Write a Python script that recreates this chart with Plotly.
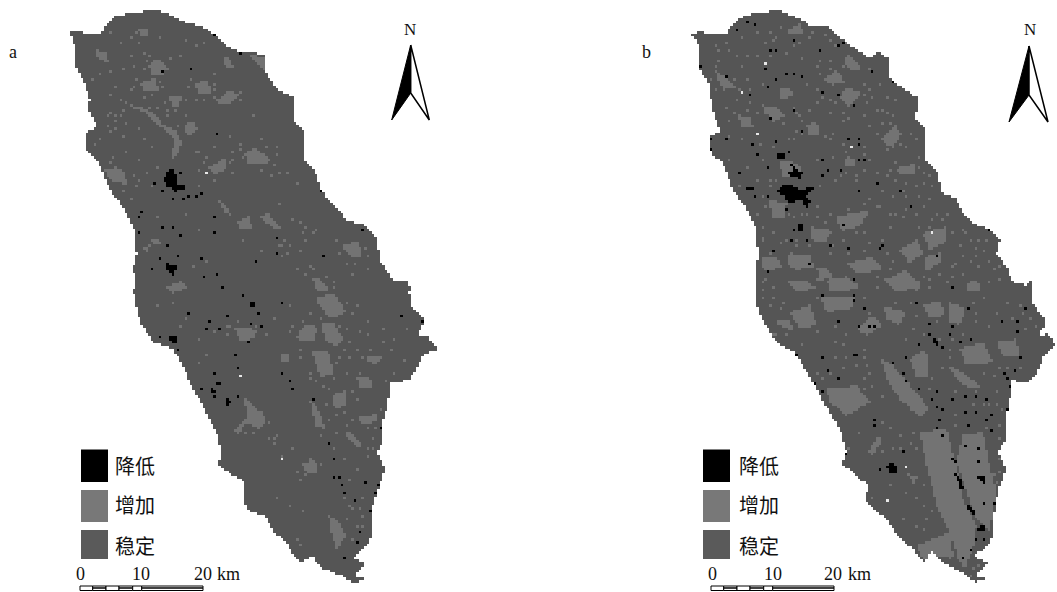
import numpy as np
import plotly.graph_objects as go

BLACK = "#000000"
# raster classes: 0 stable, 1 increase, 2 decrease, 3 small bright flecks
CLASS_COLORS = ["#555555", "#737373", "#000000", "#e8e8e8"]
CELL = 2.6

# Map geometry, in 3x crop units (top crop / bottom crop of each panel)
A_OFF_TOP, A_OFF_BOT = (0, 0), (0, 292)
B_OFF_TOP, B_OFF_BOT = (630, 0), (630, 292)

A_OUT_TOP = [(210,95),(240,92),(265,105),(305,100),(320,75),(345,50),(395,38),(430,35),(470,28),(510,45),(550,65),(600,78),(640,100),(680,135),(720,160),(750,155),(795,165),(800,225),(830,265),(880,290),(885,320),(880,360),(910,395),(915,480),(945,510),(965,575),(1000,610),(1040,660),(1090,675),(1130,715),(1140,780),(1180,840),(1225,840),(1232,876)]
A_OUT_BOT = [(1228,0),(1235,40),(1275,85),(1250,130),(1280,130),(1315,170),(1270,190),(1250,230),(1225,265),(1170,270),(1165,330),(1145,400),(1150,440),(1130,480),(1155,530),(1135,590),(1115,650),(1115,700),(1110,750),(1060,800),(1100,815),(1060,850),(1090,860),(1060,875),(1035,855),(960,825),(935,790),(905,810),(875,780),(860,750),(820,720),(795,670),(750,660),(730,625),(735,570),(690,545),(655,520),(665,480),(650,420),(610,345),(580,290),(540,205),(520,170),(460,150),(420,90),(400,0)]
A_OUT_LEFT = [(400,876),(405,850),(400,800),(410,760),(405,690),(375,630),(330,570),(300,495),(260,450),(255,405),(290,375),(265,325),(270,300),(255,250),(230,205),(230,150)]

B_OUT_TOP = [(185,100),(215,95),(250,105),(290,100),(305,75),(330,55),(375,38),(410,38),(440,30),(470,40),(520,62),(545,82),(590,78),(640,120),(680,150),(720,175),(745,155),(775,175),(780,230),(805,255),(860,290),(865,320),(855,350),(890,395),(890,480),(920,510),(940,585),(975,590),(1000,640),(1040,675),(1085,690),(1110,720),(1100,760),(1130,800),(1150,850),(1190,855),(1210,840),(1203,876)]
B_OUT_BOT = [(1205,0),(1210,35),(1250,90),(1225,130),(1255,125),(1280,160),(1245,185),(1230,230),(1195,270),(1145,265),(1140,320),(1125,390),(1130,440),(1105,480),(1130,535),(1105,590),(1090,680),(1085,750),(1035,790),(1075,815),(1035,850),(1065,860),(1035,870),(1005,845),(940,810),(905,780),(880,810),(850,770),(810,740),(770,680),(735,655),(705,625),(715,580),(680,550),(635,515),(650,480),(630,410),(590,345),(555,280),(510,205),(495,180),(440,150),(385,60),(380,0)]
B_OUT_LEFT = [(380,876),(380,850),(385,760),(380,690),(345,620),(310,570),(280,490),(245,460),(235,410),(270,395),(245,320),(240,260),(210,205),(210,140)]

A_LIGHT_TOP = [
 [(375,310),(420,320),(470,345),(490,375),(530,395),(545,425),(530,470),(510,480),(525,425),(505,395),(470,375),(440,340),(400,325),(370,300)],
 [(550,375),(580,365),(592,390),(570,410),(550,395)],
 [(735,460),(765,445),(815,480),(790,495),(745,490)],
 [(650,300),(690,270),(715,285),(690,315),(660,310)],
 [(445,195),(475,175),(500,195),(490,230),(455,225)],
 [(285,150),(315,155),(325,185),(295,180)],
 [(580,250),(620,240),(635,275),(600,285)],
 [(420,250),(465,235),(475,270),(435,275)],
 [(505,290),(545,285),(540,315),(515,320)],
 [(665,170),(690,175),(705,205),(680,205)],
 [(620,505),(675,475),(680,500),(650,525)],
 [(780,650),(805,640),(845,685),(825,690)],
 [(710,665),(745,650),(760,690),(725,690)],
 [(1025,735),(1075,725),(1090,775),(1055,770)],
 [(495,860),(540,845),(565,860),(520,880)],
 [(445,715),(490,725),(470,735)],
 [(655,600),(680,620),(695,650),(670,635)],
 [(750,165),(795,170),(800,220),(770,190)],
 [(935,830),(965,840),(990,876),(950,876)],
 [(310,505),(370,510),(385,555),(330,540)],
 [(430,740),(450,735),(445,755),(432,752)],
 [(415,90),(445,85),(440,110),(420,105)],
]
A_LIGHT_BOT = [
 [(890,130),(920,95),(950,105),(945,145),(905,150)],
 [(965,95),(1000,90),(1030,140),(1005,165),(975,140)],
 [(935,180),(985,175),(1000,245),(960,255)],
 [(1070,255),(1110,255),(1115,290),(1080,290)],
 [(995,310),(1040,295),(1040,340),(1005,350)],
 [(1075,375),(1135,365),(1125,390),(1085,395)],
 [(1030,425),(1050,420),(1085,455),(1080,470)],
 [(730,310),(750,330),(800,385),(780,410),(740,390),(715,425),(700,415),(745,375)],
 [(985,670),(1005,675),(1040,730),(1010,770),(995,725)],
 [(700,105),(760,110),(770,140),(720,145)],
 [(840,180),(870,185),(865,210),(845,205)],
 [(945,20),(1000,0),(1040,60),(990,80)],
 [(905,515),(945,505),(955,540),(920,540)],
 [(930,320),(960,360),(975,410),(945,400)],
 [(1100,190),(1150,195),(1130,215),(1105,210)],
]
B_LIGHT_TOP = [
 [(580,240),(620,210),(645,245),(605,255)],
 [(630,290),(650,260),(695,280),(660,320)],
 [(640,180),(660,165),(695,205),(665,215)],
 [(470,90),(510,70),(520,100),(480,105)],
 [(255,210),(300,240),(320,265),(280,270)],
 [(395,315),(440,320),(465,350),(430,365)],
 [(445,270),(480,262),(490,290),(450,295)],
 [(325,345),(365,355),(370,385),(335,380)],
 [(530,375),(560,365),(570,400),(540,410)],
 [(750,420),(795,375),(815,400),(790,445)],
 [(645,480),(680,475),(680,500),(650,500)],
 [(800,505),(860,490),(850,525),(810,525)],
 [(420,600),(470,610),(460,660),(425,650)],
 [(445,480),(500,490),(520,520),(460,530)],
 [(540,680),(600,690),(590,730),(545,720)],
 [(810,750),(860,720),(880,760),(840,790)],
 [(880,700),(950,680),(945,730),(900,750)],
 [(885,770),(930,760),(930,790),(890,810)],
 [(395,775),(440,770),(455,800),(420,815),(395,805)],
 [(480,760),(540,765),(550,800),(500,810),(470,790)],
 [(560,800),(600,810),(610,835),(570,840)],
 [(470,845),(530,840),(560,865),(500,876)],
 [(590,840),(650,830),(690,860),(640,876),(600,870)],
 [(1010,850),(1045,840),(1050,876),(1015,876)],
 [(760,840),(830,810),(880,860),(800,876)],
 [(650,790),(730,770),(760,810),(680,820)],
 [(620,650),(720,630),(690,680),(630,690)],
]
B_LIGHT_BOT = [
 [(750,195),(790,220),(850,290),(900,350),(870,375),(810,320),(780,280)],
 [(840,200),(890,170),(895,250),(860,260)],
 [(870,420),(950,410),(975,500),(1000,620),(1040,700),(1030,770),(1005,830),(985,800),(960,720),(920,640),(895,540)],
 [(1000,430),(1060,420),(1080,520),(1100,600),(1080,720),(1040,680),(1010,600),(980,510)],
 [(590,290),(680,280),(720,330),(650,370),(600,330)],
 [(480,60),(540,40),(560,100),(510,110)],
 [(680,110),(730,70),(760,100),(710,130)],
 [(760,40),(830,60),(810,100),(770,80)],
 [(880,40),(930,25),(945,70),(900,80)],
 [(960,30),(1010,50),(990,100),(955,85)],
 [(570,10),(680,10),(660,50),(590,60)],
 [(1100,150),(1160,140),(1170,190),(1120,190)],
 [(715,480),(745,430),(760,440),(730,490)],
 [(950,220),(1000,240),(1060,290),(1000,280)],
 [(860,760),(960,720),(970,790),(880,800)],
 [(990,170),(1060,150),(1090,210),(1010,220)],
 [(430,90),(480,80),(490,120)],
 [(830,545),(860,555),(855,575)],
]

A_SPECK_TOP = [(330,95),(395,110),(410,100),(360,130),(420,130),(480,110),(560,120),(590,140),(610,130),(280,240),(300,225),(330,215),(370,205),(400,200),(350,260),(390,270),(330,285),(360,300),(320,350),(350,345),(380,370),(420,385),(330,395),(370,410),(430,420),(460,440),(300,420),(285,430),(340,470),(380,460),(420,480),(470,500),(590,460),(620,470),(640,440),(690,410),(720,430),(780,420),(830,440),(600,560),(640,540),(700,520),(860,520),(890,550),(840,610),(880,660),(920,680),(940,700),(850,740),(900,750),(780,750),(730,720),(620,780),(580,800),(470,650),(560,640),(600,690),(890,810),(930,800),(1000,850),(1060,820),(1100,810),(720,300),(760,350),(640,220),(540,170),(430,160),(390,170),
 (410,240),(400,265),(480,245),(490,260),(455,285),(430,290),(440,180),(505,210),(430,210),(510,175),(450,165),(570,235),(565,265),(645,255),(640,290),(610,300),(585,300),(495,310),(555,300),(500,335),(530,335),(720,445),(730,475),(700,460),(825,495),(830,465),(800,440),(780,510),(840,515),(815,530),(600,460),(610,490),(600,510),(690,490),(700,480),(330,490),(350,500),(400,530),(410,560),(370,570),(390,600),(420,545),(440,520),(460,555),(305,530),(1010,720),(1020,760),(1095,745),(1100,765),(1065,790),(1040,790),(920,820),(1000,860),(940,810),(980,830),(835,735),(860,760),(845,770),(870,735),(855,720),(920,720),(945,690),(910,700),(900,670),(725,275),(720,300),(640,270),(450,320),(500,345),(470,320),(560,350),(535,375),(335,340),(345,360),(360,345),(370,330),(320,375),(350,385)]
A_SPECK_BOT = [(520,30),(470,40),(560,80),(540,100),(600,140),(640,120),(680,100),(620,190),(600,215),(800,130),(820,80),(870,40),(1060,60),(1100,90),(1150,110),(1180,140),(1220,110),(1210,205),(1185,240),(1160,270),(820,440),(845,490),(880,470),(900,560),(870,640),(830,620),(910,660),(890,740),(1060,650),(1030,620),(1070,700),(1090,620),(1050,560),(960,430),(1000,470),(1070,530),(1100,490),(1120,440),
 (880,100),(870,120),(905,85),(960,80),(1040,110),(1050,150),(1070,170),(1030,170),(1020,200),(1090,200),(1110,170),(1120,200),(1000,260),(1010,215),(1080,240),(1040,240),(1150,150),(1170,170),(950,270),(970,280),(930,260),(930,240),(900,200),(900,170),(960,40),(930,60),(1040,30),(1070,40),(1020,100),(1080,120),(1100,130),(1050,200),(980,340),(990,290),(1060,300),(1070,320),(1030,360),(1010,370),(985,380),(1060,380),(1140,350),(1100,410),(1130,410),(760,350),(780,360),(810,395),(760,420),(720,400),(740,420),(830,430),(820,450),(810,440),(680,130),(690,100),(710,90),(770,120),(770,100),(905,520),(915,545),(960,520),(930,500),(895,540),(1030,500),(1080,650),(1090,670),(1050,640),(1045,680),(1085,700),(1100,470),(1120,470),(1040,400),(1010,420),(900,760),(890,745),(1060,740)]
A_BLACK_TOP = [[(490,540),(505,510),(525,510),(530,560),(505,565)],[(500,790),(535,800),(520,825),(500,810)],[(515,555),(555,550),(555,570),(520,575)]]
A_BLACK_BOT = [[(745,25),(765,28),(768,45),(750,45)],[(508,130),(530,130),(530,150),(512,150)],[(645,268),(665,270),(665,278),(645,278)],[(675,318),(692,322),(688,345),(675,342)],[(630,285),(648,298),(645,305),(630,295)]]
A_BLACK_PTS_TOP = [(490,217),(573,205),(655,398),(462,553),(485,570),(540,518),(565,585),(590,590),(605,578),(520,595),(550,598),(425,635),(415,650),(380,655),(405,700),(415,695),(488,680),(520,686),(540,705),(503,735),(640,695),(645,655),(827,713),(827,762),(972,770),(765,782),(480,778),(535,767),(605,777),(610,828),(655,825),(670,858),(730,882),(460,808),(1140,780),(960,570),(1085,690),(885,358),(805,228),(722,160),(642,102),(228,205)]
A_BLACK_PTS_BOT = [(850,32),(565,65),(625,85),(682,70),(755,95),(778,60),(622,110),(660,110),(780,100),(745,148),(482,135),(533,172),(708,190),(712,230),(640,245),(850,245),(870,268),(880,292),(940,320),(605,290),(640,312),(715,312),(990,450),(1000,500),(1005,553),(1020,553),(1025,578),(1035,605),(1068,625),(1097,568),(1080,722),(1070,748),(1032,800),(1205,70),(1270,90),(1140,405),(1115,660),(1135,575),(1130,600)]
A_WHITE_TOP = [(622,518)]
A_WHITE_BOT = [(725,253),(843,498)]

B_SPECK_TOP = [(255,140),(290,130),(340,110),(380,95),(430,120),(540,115),(600,120),(700,130),(270,180),(340,200),(380,170),(420,170),(470,160),(520,175),(560,200),(600,180),(720,210),(750,250),(770,290),(350,240),(400,250),(530,250),(560,270),(700,250),(710,310),(760,330),(800,300),(290,320),(320,300),(360,310),(500,340),(540,330),(600,340),(640,360),(700,350),(740,400),(300,410),(340,420),(390,430),(430,440),(480,420),(600,420),(640,430),(700,440),(830,440),(860,420),(300,480),(350,500),(400,480),(560,480),(610,470),(720,480),(740,520),(780,510),(870,470),(330,560),(380,540),(420,560),(570,560),(620,540),(680,540),(760,570),(820,570),(880,550),(900,600),(380,640),(520,640),(560,620),(600,640),(750,620),(800,640),(860,640),(920,640),(400,710),(470,720),(640,720),(700,700),(760,720),(970,700),(1010,700),(1050,720),(420,760),(600,760),(660,760),(980,790),(1040,770),(1080,780),(1110,800),(400,850),(950,850),(900,860),
 (260,200),(270,220),(240,240),(310,240),(330,270),(260,270),(360,270),(300,150),(270,150),(320,170),(350,170),(440,110),(410,130),(455,85),(420,95),(490,140),(510,130),(550,100),(585,105),(620,140),(650,130),(570,180),(600,205),(570,225),(640,195),(700,285),(720,270),(730,290),(600,300),(620,310),(640,340),(660,355),(580,290),(560,310),(490,320),(510,345),(520,360),(410,340),(460,370),(380,340),(350,330),(300,360),(310,340),(740,330),(770,340),(790,350),(520,405),(585,410),(610,405),(500,390),(490,420),(720,380),(760,370),(780,370),(810,430),(770,445),(840,400),(650,460),(660,470),(700,465),(700,510),(650,520),(680,525),(630,525),(800,490),(870,500),(880,520),(770,530),(800,540),(830,550),(900,530),(910,560),(860,560),(830,585),(870,590),(790,590),(420,540),(440,540),(400,590),(410,620),(480,640),(490,650),(530,640),(560,650),(590,670),(640,650),(660,630),(700,610),(720,600),(740,620),(780,640),(780,680),(820,650),(830,630),(880,620),(910,660),(870,680),(900,680),(940,660),(950,640),(1000,690),(1020,720),(990,740),(1040,745),(1060,750),(1070,720),(1020,780),(1000,770),(400,680),(400,720),(430,700),(450,730),(500,720),(500,740),(540,740),(600,700),(610,740),(640,690),(680,700),(720,730),(700,750),(770,760),(790,780),(970,800),(1000,820),(1050,800),(1090,810),(1110,840),(1080,850),(970,830),(930,820),(900,810),(880,830),(900,840),(870,850),(860,870),(740,860),(620,840),(560,840),(430,860),(410,840),(400,870),(780,810),(740,830)]
B_SPECK_BOT = [(420,40),(450,50),(440,130),(560,120),(620,100),(650,130),(700,170),(620,200),(640,230),(600,240),(680,220),(720,240),(880,130),(920,90),(1040,60),(1080,100),(1100,60),(1150,80),(1180,60),(1190,110),(1130,230),(1170,230),(980,300),(1040,300),(1080,340),(1100,300),(1120,350),(780,410),(810,430),(760,390),(690,420),(660,470),(830,600),(780,580),(730,620),(880,640),(820,680),(880,710),(1100,660),(1090,550),(1060,460),(1110,500),(1050,780),(1010,810),(1030,830),(1050,820),
 (400,20),(430,20),(460,30),(560,20),(700,20),(720,60),(800,30),(840,30),(860,70),(850,110),(830,140),(1030,30),(1060,20),(1130,30),(1170,40),(1200,80),(1220,100),(1040,90),(1000,130),(970,140),(930,140),(960,170),(960,200),(940,230),(900,290),(910,260),(1090,250),(1060,240),(1110,230),(1030,340),(1060,340),(1100,340),(1110,400),(1070,410),(980,370),(980,400),(700,290),(700,260),(730,280),(760,310),(580,260),(560,240),(520,160),(470,130),(430,130),(620,150),(640,160),(650,200),(700,200),(710,220),(840,350),(850,420),(840,450),(810,470),(790,470),(760,480),(860,470),(1110,440),(1120,480),(1110,540),(1100,570),(880,580),(860,620),(910,660),(890,680),(860,700),(900,750),(960,800),(940,790),(1000,850),(1020,855)]
B_BLACK_TOP = [[(440,570),(470,550),(510,570),(555,560),(530,590),(545,610),(500,600),(480,615),(465,590)],[(475,515),(500,505),(520,520),(510,535),(480,530)],[(500,680),(520,665),(525,690),(510,695)],[(352,560),(370,558),(368,568),(352,568)],[(442,463),(462,462),(462,472),(442,472)],[(520,610),(540,608),(530,625)],[(480,490),(495,500),(490,510)]]
B_BLACK_BOT = [[(770,520),(785,512),(802,522),(800,542),(780,540)],[(745,525),(755,525),(752,535),(745,535)],[(912,140),(922,142),(922,158),(912,156)],[(975,545),(990,555),(1003,590),(995,595),(982,565)],[(1045,705),(1060,695),(1072,708),(1060,718),(1045,715)],[(1015,640),(1035,660),(1030,672),(1012,650)],[(1045,550),(1068,553),(1065,572),(1048,568)]]
B_BLACK_PTS_TOP = [(320,90),(350,65),(372,77),(420,150),(438,152),(495,122),(570,152),(625,140),(640,125),(705,160),(405,210),(470,222),(490,225),(438,237),(515,228),(290,233),(723,218),(210,200),(412,265),(358,283),(575,277),(628,285),(675,315),(425,355),(495,333),(860,352),(790,245),(288,415),(370,432),(435,422),(518,395),(685,420),(685,430),(658,420),(380,465),(480,460),(575,477),(705,478),(685,478),(330,518),(415,505),(595,508),(630,512),(575,530),(742,553),(690,575),(815,575),(840,620),(240,415),(245,450),(415,592),(375,590),(470,628),(640,678),(490,690),(485,722),(530,718),(430,750),(605,735),(655,743),(750,748),(760,740),(540,795),(415,815),(670,838),(378,848),(580,885),(670,882),(970,858),(920,765),(1075,690),(1100,760),(1130,800)]
B_BLACK_PTS_BOT = [(675,22),(705,52),(625,85),(690,105),(720,100),(735,105),(860,35),(895,97),(895,125),(970,105),(1015,50),(1185,50),(1160,90),(1165,115),(1120,85),(1020,138),(995,152),(960,130),(870,158),(935,165),(830,200),(580,197),(500,185),(595,237),(625,262),(553,277),(575,297),(565,315),(680,190),(670,185),(790,215),(817,240),(830,265),(865,290),(918,300),(905,320),(918,342),(940,355),(930,385),(925,405),(938,430),(1005,310),(1040,315),(1070,320),(967,325),(1010,360),(1040,358),(1085,365),(1068,380),(1015,397),(1088,418),(1005,462),(1050,470),(1050,512),(1125,240),(1155,232),(1130,262),(1140,285),(1135,350),(1170,200),(820,478),(735,380),(735,400),(632,438),(650,482),(595,358),(965,500),(978,510),(1060,632),(1090,630),(1060,745),(1040,740),(1025,770),(1000,800)]
B_WHITE_TOP = [(408,188),(385,400),(665,437),(910,700),(340,275)]
B_WHITE_BOT = [(773,627),(825,522)]

LEGEND_LABELS = ["降低", "增加", "稳定"]
LEGEND_COLORS = ["#000000", "#787878", "#5a5a5a"]
SCALE_LABELS = ["0", "10", "20", "km"]

# --- raster grid the two maps are classified on
xc = (np.arange(int(1057 / CELL) + 1) + 0.5) * CELL
yc = (np.arange(int(592 / CELL) + 1) + 0.5) * CELL
GX, GY = np.meshgrid(xc, yc)


def place(pts, off):
    return np.array([off[0] + p[0] / 3 for p in pts]), np.array([off[1] + p[1] / 3 for p in pts])


def inside(px, py):
    m = np.zeros(GX.shape, dtype=bool)
    n = len(px)
    for i in range(n):
        j = (i - 1) % n
        cross = (py[i] > GY) != (py[j] > GY)
        with np.errstate(divide="ignore", invalid="ignore"):
            xint = (px[j] - px[i]) * (GY - py[i]) / (py[j] - py[i]) + px[i]
        m ^= cross & (GX < xint)
    return m


def stamp(z, mask, polys, off, value):
    for poly in polys:
        px, py = place(poly, off)
        z[inside(px, py) & mask] = value


def dab(z, mask, pts, off, value):
    for p in pts:
        i = int((off[1] + p[1] / 3) / CELL)
        j = int((off[0] + p[0] / 3) / CELL)
        if 0 <= i < z.shape[0] and 0 <= j < z.shape[1] and mask[i, j]:
            z[i, j] = value


def panel(z, out, light, speck, black, bpts, white, o_top, o_bot):
    x1, y1 = place(out[0], o_top)
    x2, y2 = place(out[1], o_bot)
    x3, y3 = place(out[2], o_top)
    mask = inside(np.r_[x1, x2, x3], np.r_[y1, y2, y3])
    z[mask] = 0
    stamp(z, mask, light[0], o_top, 1)
    stamp(z, mask, light[1], o_bot, 1)
    dab(z, mask, speck[0], o_top, 1)
    dab(z, mask, speck[1], o_bot, 1)
    stamp(z, mask, black[0], o_top, 2)
    stamp(z, mask, black[1], o_bot, 2)
    dab(z, mask, bpts[0], o_top, 2)
    dab(z, mask, bpts[1], o_bot, 2)
    dab(z, mask, white[0], o_top, 3)
    dab(z, mask, white[1], o_bot, 3)


Z = np.full(GX.shape, np.nan)
panel(Z, (A_OUT_TOP, A_OUT_BOT, A_OUT_LEFT), (A_LIGHT_TOP, A_LIGHT_BOT), (A_SPECK_TOP, A_SPECK_BOT),
      (A_BLACK_TOP, A_BLACK_BOT), (A_BLACK_PTS_TOP, A_BLACK_PTS_BOT), (A_WHITE_TOP, A_WHITE_BOT), A_OFF_TOP, A_OFF_BOT)
panel(Z, (B_OUT_TOP, B_OUT_BOT, B_OUT_LEFT), (B_LIGHT_TOP, B_LIGHT_BOT), (B_SPECK_TOP, B_SPECK_BOT),
      (B_BLACK_TOP, B_BLACK_BOT), (B_BLACK_PTS_TOP, B_BLACK_PTS_BOT), (B_WHITE_TOP, B_WHITE_BOT), B_OFF_TOP, B_OFF_BOT)

scale = []
for k, c in enumerate(CLASS_COLORS):
    scale += [[k / 4, c], [(k + 1) / 4, c]]

fig = go.Figure(go.Heatmap(x=xc, y=yc, z=Z, zmin=-0.5, zmax=3.5, colorscale=scale, showscale=False,
                           zsmooth=False, hoverinfo="skip", hoverongaps=False))

shapes, notes = [], []
SERIF = "Liberation Serif, serif"
CJK = "Noto Sans CJK SC, sans-serif"


def note(x, y, text, size, family=SERIF, anchor="center"):
    notes.append(dict(x=x, y=y, xref="x", yref="y", text=text, showarrow=False, xanchor=anchor,
                      yanchor="middle", font=dict(family=family, size=size, color="#111111")))


def furniture(label, label_x, sw_x0, sw_x1, text_x, n_x, apex, lfoot, rfoot, notch, bar_x, num_x):
    note(label_x, 52, label, 18)
    note(n_x, 29, "N", 17)
    fig.add_trace(go.Scatter(x=[apex[0], lfoot[0], notch[0], apex[0]], y=[apex[1], lfoot[1], notch[1], apex[1]],
                             mode="lines", fill="toself", fillcolor=BLACK, line=dict(color=BLACK, width=1), hoverinfo="skip"))
    fig.add_trace(go.Scatter(x=[apex[0], rfoot[0], notch[0], apex[0]], y=[apex[1], rfoot[1], notch[1], apex[1]],
                             mode="lines", fill="toself", fillcolor="#ffffff", line=dict(color=BLACK, width=1.5), hoverinfo="skip"))
    rows = [(449.5, 482), (490, 522), (530, 559)]
    centers = [465, 504, 545]
    for (y0, y1), c, col, lab in zip(rows, centers, LEGEND_COLORS, LEGEND_LABELS):
        shapes.append(dict(type="rect", xref="x", yref="y", x0=sw_x0, x1=sw_x1, y0=y0, y1=y1,
                           fillcolor=col, line=dict(width=0)))
        note(text_x, c, lab, 20, CJK, "left")
    for k, txt in enumerate(SCALE_LABELS):
        note(num_x[k], 574, txt, 18)
    x0 = bar_x
    ticks = [0, 12.7, 26, 39, 52.7, 61.7, 123]
    for i in range(6):
        a, b = x0 + ticks[i], x0 + ticks[i + 1]
        shapes.append(dict(type="rect", xref="x", yref="y", x0=a, x1=b, y0=586, y1=590.5,
                           fillcolor="#ffffff", line=dict(color=BLACK, width=1)))
        if i % 2:
            shapes.append(dict(type="line", xref="x", yref="y", x0=a, x1=b, y0=588, y1=588,
                               line=dict(color=BLACK, width=1.5)))


furniture("a", 13, 81, 108, 113, 410, (410.7, 45), (391.7, 120), (429.3, 120), (410.7, 93), 80, [80, 141, 203, 228])
furniture("b", 646, 703, 730, 737, 1030, (1029, 46), (1009, 122), (1048, 122), (1029, 95), 711, [712, 773, 833, 859])

fig.update_layout(
    width=1057, height=592, margin=dict(l=0, r=0, t=0, b=0), showlegend=False,
    paper_bgcolor="#ffffff", plot_bgcolor="#ffffff", shapes=shapes, annotations=notes,
    xaxis=dict(range=[0, 1057], visible=False, fixedrange=True),
    yaxis=dict(range=[592, 0], visible=False, fixedrange=True),
)
fig.write_html("out.html", config=dict(displayModeBar=False),
               post_script="document.body.style.margin='0';document.body.style.overflow='hidden';")
